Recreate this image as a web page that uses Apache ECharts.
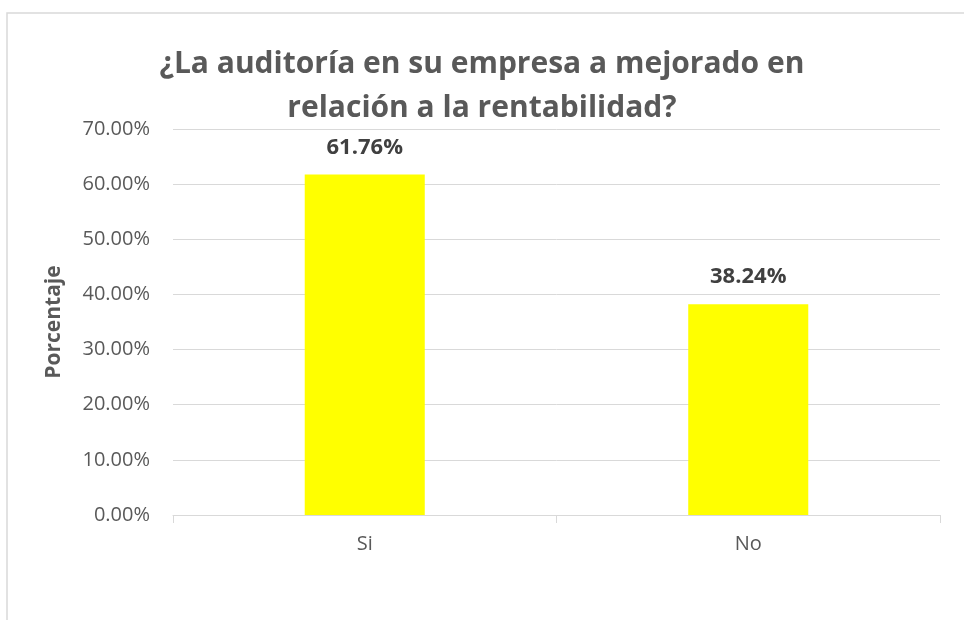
<!DOCTYPE html>
<html>
<head>
<meta charset="utf-8">
<script src="https://cdn.jsdelivr.net/npm/echarts@6/dist/echarts.min.js"></script>
<style>
  html, body { margin: 0; padding: 0; background: #fff; }
  #chart { width: 964px; height: 620px; }
</style>
</head>
<body>
<div id="chart"></div>
<script>
const categories = ['Si', 'No'];
const porcentajes = [61.76, 38.24];
const titulo = '¿La auditoría en su empresa a mejorado en\nrelación a la rentabilidad?';

const chart = echarts.init(document.getElementById('chart'));
const bodyFont = '"Open Sans", sans-serif';

const option = {
    backgroundColor: '#fff',
    animation: false,
    title: {
        text: titulo,
        left: 'center',
        top: 37,
        textStyle: {
            fontFamily: bodyFont,
            fontSize: 30,
            fontWeight: 'bold',
            color: '#595959',
            lineHeight: 44
        }
    },
    graphic: [{
        type: 'rect',
        shape: { x: 7, y: 13, width: 1000, height: 700 },
        style: { fill: 'none', stroke: '#d9d9d9', lineWidth: 1.5 },
        silent: true,
        z: -1
    }],
    grid: { left: 173, right: 24, top: 129, bottom: 105 },
    xAxis: {
        type: 'category',
        data: categories,
        axisLine: { lineStyle: { color: '#d9d9d9', width: 1 } },
        axisTick: { show: true, length: 8, lineStyle: { color: '#d9d9d9' } },
        axisLabel: { color: '#595959', fontSize: 20, fontFamily: bodyFont, margin: 19 }
    },
    yAxis: {
        type: 'value',
        min: 0,
        max: 70,
        interval: 10,
        name: 'Porcentaje',
        nameLocation: 'middle',
        nameGap: 108,
        nameRotate: 90,
        nameTextStyle: { color: '#595959', fontSize: 21, fontWeight: 'bold', fontFamily: bodyFont },
        axisLine: { show: false },
        axisTick: { show: false },
        splitLine: { lineStyle: { color: '#d9d9d9', width: 1 } },
        axisLabel: {
            color: '#595959',
            fontSize: 20,
            fontFamily: bodyFont,
            margin: 23,
            formatter: v => v.toFixed(2) + '%'
        }
    },
    series: [{
        type: 'bar',
        data: porcentajes,
        barWidth: '31.3%',
        itemStyle: { color: '#ffff00' },
        label: {
            show: true,
            position: 'top',
            distance: 16,
            color: '#404040',
            fontSize: 22,
            fontWeight: 'bold',
            fontFamily: bodyFont,
            formatter: p => p.value.toFixed(2) + '%'
        }
    }]
};
chart.setOption(option);
</script>
</body>
</html>
